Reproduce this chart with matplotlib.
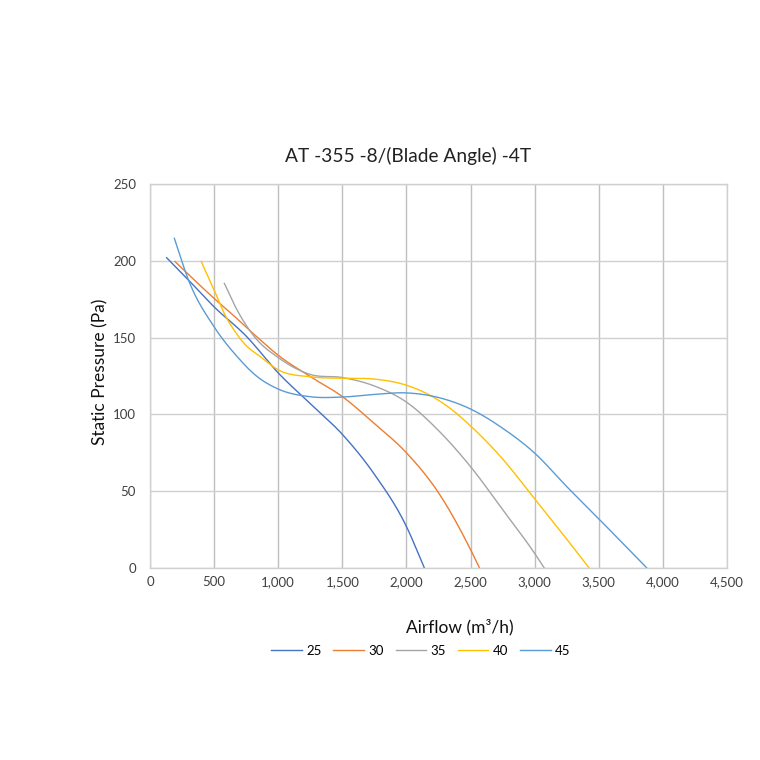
import numpy as np
import matplotlib
matplotlib.use("Agg")
import matplotlib.pyplot as plt
from matplotlib.ticker import FuncFormatter

plt.rcParams['font.family'] = ['Lato', 'DejaVu Sans']

# Blade angles (legend)
angles = ['25', '30', '35', '40', '45']
colors = ['#4472C4', '#ED7D31', '#A5A5A5', '#FFC000', '#5B9BD5']

# Airflow (m3/h) and static pressure (Pa)
x25 = [130, 300, 500, 750, 1000, 1250, 1500, 1750, 2000, 2140]
y25 = [202, 187.5, 170, 151, 127, 107, 87, 61, 27, 0]

x30 = [195, 500, 650, 820, 1000, 1250, 1500, 1750, 2000, 2250, 2500, 2570]
y30 = [199.5, 175.5, 164.5, 151.5, 138.5, 124.6, 111.6, 94, 75, 49, 12, 0]

x35 = [580, 660, 740, 820, 1000, 1250, 1500, 1750, 2000, 2250, 2500, 2750, 3000, 3075]
y35 = [185.3, 171, 159.3, 150, 137, 126, 124, 118.5, 108, 89.5, 66, 38, 9.5, 0]

x40 = [400, 500, 585, 663, 741, 860, 1000, 1250, 1500, 1750, 2000, 2180, 2340, 2500,
       2750, 3000, 3250, 3425]
y40 = [199.5, 181, 164.7, 154, 145.6, 137.6, 129, 124.5, 123.5, 123, 119, 112.6, 104, 92.5,
       71, 45, 18.8, 0]

x45 = [190, 300, 500, 680, 830, 1000, 1250, 1500, 1750, 2000, 2250, 2500, 2750, 3000,
       3250, 3500, 3700, 3875]
y45 = [214.6, 187.5, 157, 137.6, 125, 116.5, 111.5, 111.3, 113, 114, 111, 103.5, 91, 74.8,
       53, 32, 15, 0]

xs = [x25, x30, x35, x40, x45]
ys = [y25, y30, y35, y40, y45]


def smooth(x, y, n=25):
    # cubic Hermite drawing through the points ("smoothed line" look)
    x = np.asarray(x, float)
    y = np.asarray(y, float)
    m = np.gradient(y, x)
    px, py = [], []
    for i in range(len(x) - 1):
        h = x[i + 1] - x[i]
        t = np.linspace(0, 1, n, endpoint=False)
        h00 = 2 * t**3 - 3 * t**2 + 1
        h10 = t**3 - 2 * t**2 + t
        h01 = -2 * t**3 + 3 * t**2
        h11 = t**3 - t**2
        px.append(x[i] + t * h)
        py.append(h00 * y[i] + h10 * h * m[i] + h01 * y[i + 1] + h11 * h * m[i + 1])
    px.append([x[-1]])
    py.append([y[-1]])
    return np.concatenate(px), np.concatenate(py)


fig = plt.figure(figsize=(7.6, 7.6), dpi=100)
ax = fig.add_axes([150 / 760, 1 - 568 / 760, 577 / 760, 384 / 760])

for x, y, c, lab in zip(xs, ys, colors, angles):
    sx, sy = smooth(x, y)
    ax.plot(sx, sy, color=c, lw=1.0, label=lab)

ax.set_xlim(0, 4500)
ax.set_ylim(0, 250)
ax.set_xticks(np.arange(0, 4501, 500))
ax.set_yticks(np.arange(0, 251, 50))
ax.xaxis.set_major_formatter(FuncFormatter(lambda v, p: f"{int(v):,}"))

ax.grid(axis='x', color='#BFBFBF', lw=1.0)
ax.grid(axis='y', color='#D0D0D0', lw=1.0)
ax.set_axisbelow(True)
for s in ax.spines.values():
    s.set_color('#D0D0D0')
    s.set_linewidth(1.0)
ax.tick_params(axis='x', length=0, labelsize=9.5, colors='#404040', pad=6)
ax.tick_params(axis='y', length=0, labelsize=9.5, colors='#404040', pad=10)

fig.text(408 / 760, 1 - 156 / 760, 'AT -355 -8/(Blade Angle) -4T',
         ha='center', va='center', fontsize=13.8, color='#222222')
fig.text(460 / 760, 1 - 627 / 760, 'Airflow (m³/h)',
         ha='center', va='center', fontsize=12.5, color='#111111')
fig.text(100 / 760, 1 - 372 / 760, 'Static Pressure (Pa)', rotation=90,
         ha='center', va='center', fontsize=12.5, color='#111111')

fig.legend(loc='center', bbox_to_anchor=(421 / 760, 1 - 651 / 760), ncol=5,
           frameon=False, fontsize=9.5, handlelength=2.3, handletextpad=0.35,
           columnspacing=0.9)

fig.savefig('out.png', dpi=100, facecolor='white')
